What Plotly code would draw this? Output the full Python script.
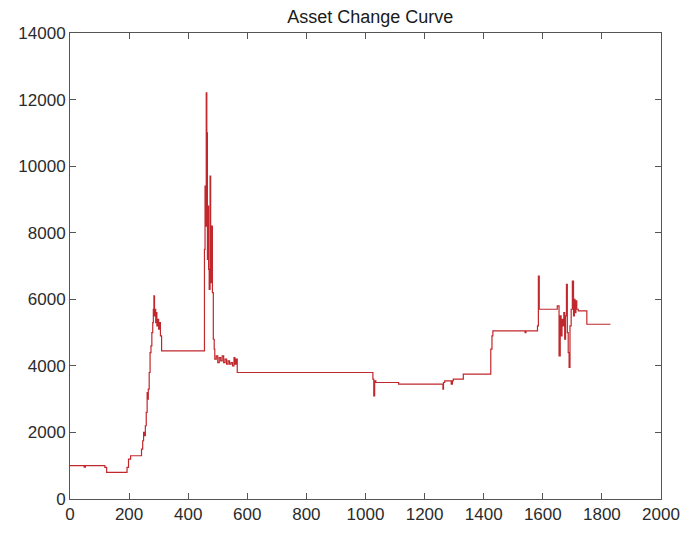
import plotly.graph_objects as go

# Asset value readings (step curve)
steps = [0, 48, 52, 118, 124, 188, 193, 198, 205, 238, 242, 246, 249, 252, 255, 258, 261, 263,
         265, 268, 271, 274, 277, 280, 282, 284, 286, 288, 290, 292, 294, 297, 300, 303, 306, 310,
         455, 457, 459, 461, 463, 465, 467, 469, 471, 474, 476, 478, 480, 482, 485, 488, 490,
         495, 500, 505, 510, 515, 520, 525, 530, 535, 540, 545, 550, 555, 558, 562, 566,
         1025, 1028, 1031, 1035, 1112, 1262, 1264, 1268, 1290, 1294, 1297, 1331, 1421, 1424,
         1428, 1431, 1540, 1543, 1582, 1585, 1588, 1649, 1655, 1659, 1662, 1665, 1668, 1671,
         1674, 1677, 1680, 1683, 1686, 1689, 1692, 1696, 1700, 1704, 1707, 1709, 1712, 1715,
         1720, 1725, 1749, 1829]
assets = [1000, 960, 1000, 950, 800, 800, 950, 1200, 1300, 1300, 1500, 1750, 2000, 1900, 2200, 2600, 3200, 3000,
          3300, 3800, 4400, 4600, 5000, 5300, 5700, 6100, 5500, 5700, 5300, 5600, 5200, 5400, 5100, 5300, 4900, 4450,
          7500, 9400, 8200, 12200, 11000, 7200, 8800, 6900, 6300, 9700, 7000, 6500, 8200, 6200, 4800, 4500, 4200,
          4300, 4100, 4250, 4150, 4300, 4100, 4200, 4050, 4150, 4050, 4100, 4000, 4250, 4050, 4200, 3800,
          3600, 3100, 3550, 3500, 3450, 3300, 3500, 3550, 3450, 3550, 3600, 3750, 3750, 4500,
          4900, 5050, 5000, 5050, 5200, 6700, 5700, 5800, 4300, 5500, 4900, 5400, 5200, 5600,
          4800, 5500, 6450, 5000, 4400, 3950, 5200, 5700, 6550, 5500, 6000, 5600, 5950, 5700,
          5650, 5650, 5250, 5250]

x_ticks = [0, 200, 400, 600, 800, 1000, 1200, 1400, 1600, 1800, 2000]
y_ticks = [0, 2000, 4000, 6000, 8000, 10000, 12000, 14000]

fig = go.Figure()
fig.add_trace(go.Scatter(x=steps, y=assets, mode="lines", line_shape="hv",
                         line=dict(color="#c0282d", width=1.2), showlegend=False))

axis_common = dict(showline=True, linecolor="#555555", linewidth=1, mirror="ticks",
                   ticks="inside", ticklen=6, tickcolor="#555555", showgrid=False,
                   zeroline=False, tickfont=dict(family="Liberation Sans, Arial", size=17, color="#2b2b2b"))

fig.update_layout(
    width=692, height=536,
    margin=dict(l=70, r=24, t=33, b=33),
    paper_bgcolor="white", plot_bgcolor="white",
    title=dict(text="Asset Change Curve", x=0.535, xanchor="center", y=0.968, yanchor="middle",
               font=dict(family="Liberation Sans, Arial", size=18, color="#1a1a1a")),
    xaxis=dict(range=[0, 2000], tickvals=x_ticks, ticktext=[str(v) for v in x_ticks], **axis_common),
    yaxis=dict(range=[0, 14000], tickvals=y_ticks, ticktext=[str(v) for v in y_ticks], **axis_common),
)

fig.write_html("out.html")
